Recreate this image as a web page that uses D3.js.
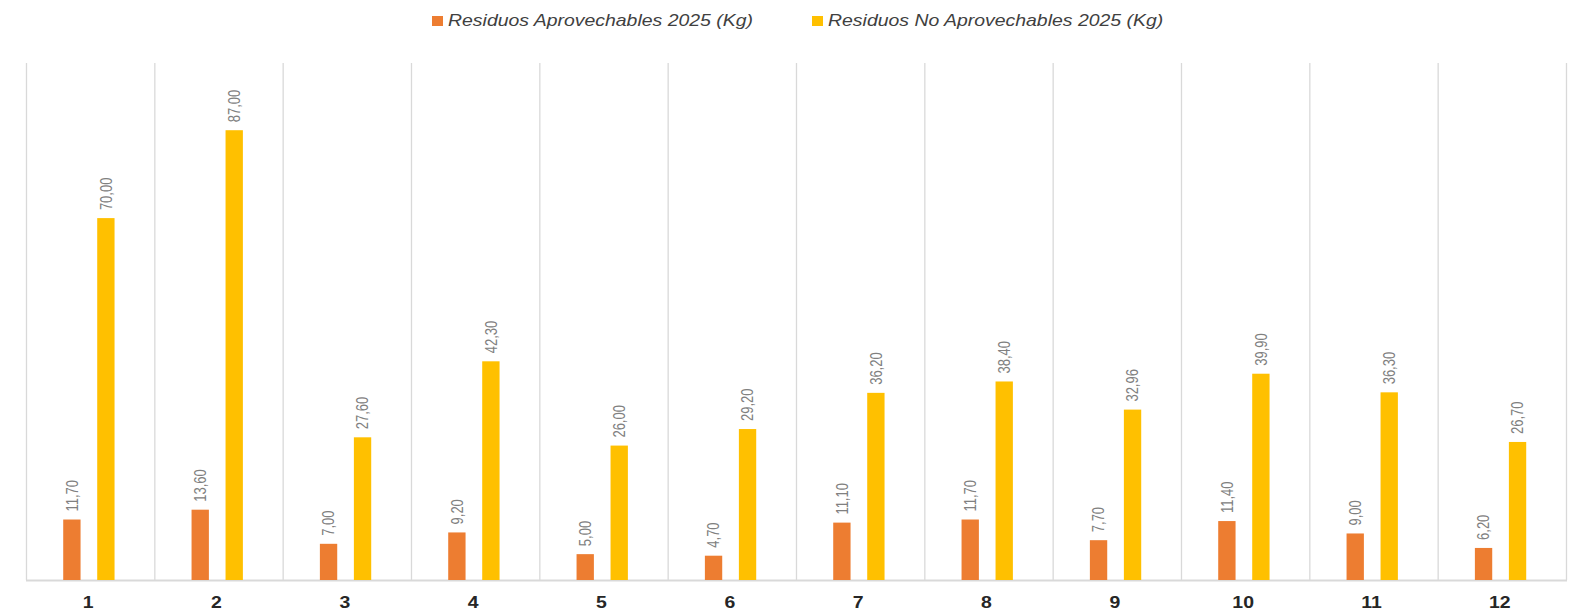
<!DOCTYPE html>
<html>
<head>
<meta charset="utf-8">
<script src="https://cdn.jsdelivr.net/npm/d3@7"></script>
<style>
  html, body { margin: 0; padding: 0; background: #fff; }
  svg { display: block; }
  text { font-family: "Liberation Sans", Arial, sans-serif; }
</style>
</head>
<body>
<svg id="chart" width="1585" height="612"></svg>
<script>
const categories = ["1","2","3","4","5","6","7","8","9","10","11","12"];
const seriesNames = ["Residuos Aprovechables 2025 (Kg)", "Residuos No Aprovechables 2025 (Kg)"];
const aprovechables = [11.70, 13.60, 7.00, 9.20, 5.00, 4.70, 11.10, 11.70, 7.70, 11.40, 9.00, 6.20];
const noAprovechables = [70.00, 87.00, 27.60, 42.30, 26.00, 29.20, 36.20, 38.40, 32.96, 39.90, 36.30, 26.70];
const colors = ["#ED7D31", "#FFC000"];
const yDomain = [0, 100];

(function () {
const seriesValues = [aprovechables, noAprovechables];
const SX = 1.215; // horizontal stretch of glyphs seen in the reference

const svg = d3.select("#chart");
const pLeft = 26, pRight = 1566, pTop = 63, pBottom = 580;

const x0 = d3.scaleBand().domain(categories).range([pLeft, pRight]).paddingInner(0).paddingOuter(0);
const bw = x0.bandwidth();
const x1 = d3.scaleBand().domain([0, 1]).range([0.29 * bw, 0.69 * bw]).paddingInner(0.49).paddingOuter(0);
const y = d3.scaleLinear().domain(yDomain).range([pBottom, pTop]);

const fmt = v => d3.format(".2f")(v).replace(".", ",");

// vertical category separators
const edges = categories.map(c => x0(c)).concat([pRight]);
svg.append("g").selectAll("line").data(edges).join("line")
  .attr("x1", d => d + 0.5).attr("x2", d => d + 0.5)
  .attr("y1", pTop).attr("y2", pBottom)
  .attr("stroke", "#d9d9d9").attr("stroke-width", 1.3);

// baseline axis
const xAxis = d3.axisBottom(x0).tickSize(0).tickPadding(0);
const gx = svg.append("g").attr("transform", `translate(0,${pBottom})`).call(xAxis);
gx.select(".domain").attr("stroke", "#d9d9d9").attr("stroke-width", 2).attr("d", `M${pLeft},0.5H${pRight + 1}`);
gx.selectAll(".tick text").remove();
gx.selectAll(".tick").each(function(d) {
  d3.select(this).append("text")
    .attr("transform", `translate(-2,27.5) scale(${SX},1)`)
    .attr("text-anchor", "middle")
    .attr("fill", "#262626")
    .attr("font-size", 16)
    .attr("font-weight", "bold")
    .text(d);
});

// bars
const groups = svg.append("g").selectAll("g").data(categories).join("g")
  .attr("transform", d => `translate(${x0(d)},0)`);

groups.selectAll("rect").data((c, i) => seriesValues.map((vals, s) => ({s, v: vals[i]})))
  .join("rect")
  .attr("x", d => x1(d.s))
  .attr("width", x1.bandwidth())
  .attr("y", d => y(d.v))
  .attr("height", d => pBottom - y(d.v))
  .attr("fill", d => colors[d.s]);

// data labels
groups.selectAll("text.lbl").data((c, i) => seriesValues.map((vals, s) => ({s, v: vals[i]})))
  .join("text")
  .attr("class", "lbl")
  .attr("transform", d => `translate(${x1(d.s) + x1.bandwidth() / 2},${y(d.v) - 8}) scale(${SX},1) rotate(-90)`)
  .attr("dy", "0.36em")
  .attr("text-anchor", "start")
  .attr("font-size", 13)
  .attr("fill", "#808080")
  .text(d => fmt(d.v));

// legend
const legendX = [432, 812];
const lg = svg.append("g").selectAll("g").data(seriesNames).join("g")
  .attr("transform", (d, i) => `translate(${legendX[i]},0)`);
lg.append("rect").attr("x", 0).attr("y", 16).attr("width", 11).attr("height", 10)
  .attr("fill", (d, i) => colors[i]);
lg.append("text")
  .attr("transform", `translate(16,25.7) scale(${SX},1)`)
  .attr("font-size", 16)
  .attr("font-style", "italic")
  .attr("fill", "#404040")
  .text(d => d);
})();
</script>
</body>
</html>
